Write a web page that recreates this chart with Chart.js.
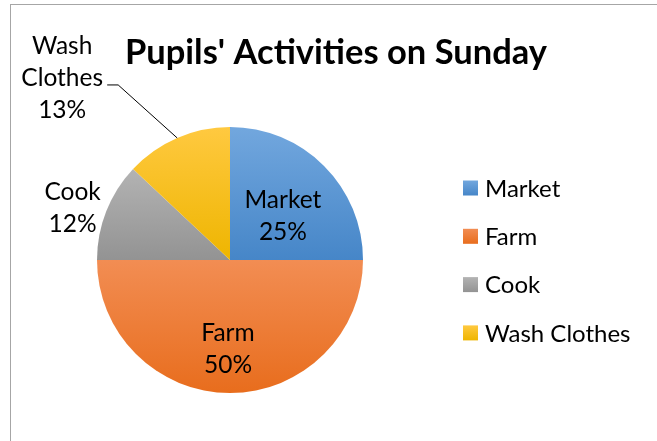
<!DOCTYPE html>
<html>
<head>
<meta charset="utf-8">
<title>Pupils' Activities on Sunday</title>
<script src="https://cdn.jsdelivr.net/npm/chart.js@4"></script>
<style>
  html, body { margin: 0; padding: 0; background: #fff; }
  canvas { display: block; }
</style>
</head>
<body>
<canvas id="pie" width="657" height="441"></canvas>
<script>
const activities = ["Market", "Farm", "Cook", "Wash Clothes"];
const percents = [25, 50, 12, 13];
const labelLines = [["Market"], ["Farm"], ["Cook"], ["Wash", "Clothes"]];
const chartTitle = "Pupils' Activities on Sunday";

// light -> dark vertical gradient stops per slice
const topColors = ["#72a7de", "#f28d53", "#b3b3b3", "#ffc940"];
const bottomColors = ["#4686c8", "#e86d1d", "#939393", "#eeb500"];

const FONT = "Lato, 'Open Sans', sans-serif";

// vertical extent of a slice, from the data fractions and the pie geometry
function sliceExtent(chart, i) {
  const a = chart.chartArea;
  const cy = (a.top + a.bottom) / 2;
  const r = Math.min(a.right - a.left, a.bottom - a.top) / 2;
  const total = percents.reduce((s, v) => s + v, 0);
  let start = 0;
  for (let k = 0; k < i; k++) start += percents[k] / total;
  const end = start + percents[i] / total;
  let ys = [cy];
  const steps = 60;
  for (let s = 0; s <= steps; s++) {
    const t = (start + (end - start) * s / steps) * Math.PI * 2;
    ys.push(cy - Math.cos(t) * r);
  }
  return [Math.min(...ys), Math.max(...ys)];
}

function sliceFill(context) {
  const chart = context.chart;
  const i = context.dataIndex;
  if (!chart.chartArea || i === undefined) return topColors[i || 0];
  const [y0, y1] = sliceExtent(chart, i);
  const g = chart.ctx.createLinearGradient(0, y0, 0, y1);
  g.addColorStop(0, topColors[i]);
  g.addColorStop(1, bottomColors[i]);
  return g;
}

// where each slice label goes: inside at a radius fraction, outside, or with a leader line
const labelPlacement = [
  { mode: "inside", frac: 0.52, dx: 4, dy: 5 },
  { mode: "inside", frac: 0.65, dx: -2, dy: 3 },
  { mode: "outside", dist: 165, dx: -4, dy: 9 },
  { mode: "callout", elbow: [-59, -53], tail: 11, dx: -45, dy: -7 }
];

const decorations = {
  id: "decorations",
  beforeDraw(chart) {
    const ctx = chart.ctx;
    ctx.save();
    ctx.fillStyle = "#ffffff";
    ctx.fillRect(0, 0, chart.width, chart.height);
    ctx.strokeStyle = "#a6a6a6";
    ctx.lineWidth = 1;
    ctx.strokeRect(10.5, 4.5, chart.width + 20, chart.height + 20);
    ctx.restore();
  },
  afterDraw(chart) {
    const ctx = chart.ctx;
    const meta = chart.getDatasetMeta(0);
    ctx.save();

    // title
    ctx.fillStyle = "#000";
    ctx.font = "bold 34.5px " + FONT;
    ctx.textAlign = "center";
    ctx.textBaseline = "middle";
    ctx.fillText(chartTitle, 336, 53);

    // slice labels
    ctx.font = "24.5px " + FONT;
    const lh = 32;
    meta.data.forEach((arc, i) => {
      const p = labelPlacement[i];
      const mid = (arc.startAngle + arc.endAngle) / 2;
      const ux = Math.cos(mid), uy = Math.sin(mid);
      const lines = labelLines[i].concat([percents[i] + "%"]);
      let cx, cy;
      if (p.mode === "inside") {
        cx = arc.x + ux * arc.outerRadius * p.frac + p.dx;
        cy = arc.y + uy * arc.outerRadius * p.frac + p.dy;
      } else if (p.mode === "outside") {
        cx = arc.x + ux * p.dist + p.dx;
        cy = arc.y + uy * p.dist + p.dy;
      } else {
        const ex = arc.x + ux * arc.outerRadius;
        const ey = arc.y + uy * arc.outerRadius;
        const bx = ex + p.elbow[0], by = ey + p.elbow[1];
        ctx.strokeStyle = "#000";
        ctx.lineWidth = 1;
        ctx.beginPath();
        ctx.moveTo(ex, ey);
        ctx.lineTo(bx, by);
        ctx.lineTo(bx - p.tail, by);
        ctx.stroke();
        cx = bx - p.tail + p.dx;
        cy = by + p.dy;
      }
      const y0 = cy - (lines.length - 1) * lh / 2;
      ctx.fillStyle = "#000";
      lines.forEach((t, k) => ctx.fillText(t, cx, y0 + k * lh));
    });

    // legend
    ctx.font = "24px " + FONT;
    ctx.textAlign = "left";
    const lx = 463, ly = 188, gap = 48.3, box = 15;
    activities.forEach((name, i) => {
      const y = ly + i * gap;
      const g = ctx.createLinearGradient(0, y - box / 2, 0, y + box / 2);
      g.addColorStop(0, topColors[i]);
      g.addColorStop(1, bottomColors[i]);
      ctx.fillStyle = g;
      ctx.fillRect(lx, y - box / 2, box, box);
      ctx.fillStyle = "#000";
      ctx.fillText(name, lx + 22, y + 1);
    });
    ctx.restore();
  }
};

new Chart(document.getElementById("pie"), {
  type: "pie",
  data: {
    labels: activities,
    datasets: [{
      data: percents,
      backgroundColor: sliceFill,
      borderWidth: 0
    }]
  },
  options: {
    responsive: false,
    animation: false,
    layout: { padding: { left: 97, right: 294, top: 127, bottom: 48 } },
    plugins: {
      legend: { display: false },
      title: { display: false },
      tooltip: { enabled: false }
    }
  },
  plugins: [decorations]
});
</script>
</body>
</html>
